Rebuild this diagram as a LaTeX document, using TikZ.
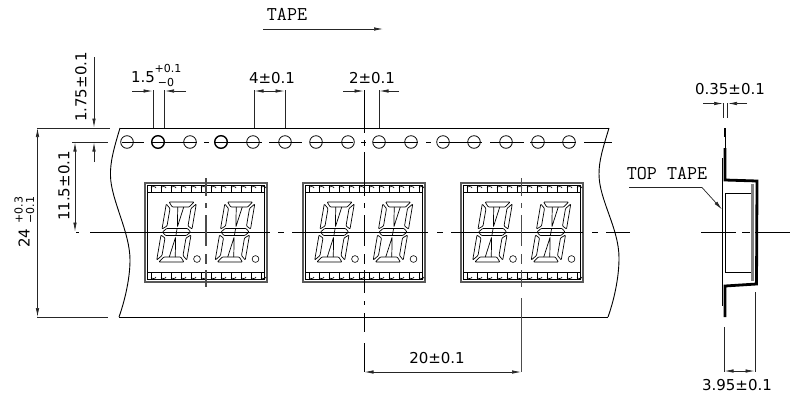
\documentclass[tikz,border=0pt]{standalone}
\usepackage{fontspec}
\setmainfont{DejaVu Sans}
\usetikzlibrary{arrows.meta}

\tikzset{
	dimline/.style={line width=.7pt,black!85},
	dimarrow/.style={dimline,-{Latex[length=9pt,width=3.5pt]}},
	dimboth/.style={dimline,{Latex[length=9pt,width=3.5pt]}-{Latex[length=9pt,width=3.5pt]}},
	dimtext/.style={inner sep=0,font=\fontsize{15}{15}\selectfont},
	tolertext/.style={inner sep=0,font=\fontsize{11}{11}\selectfont},
	captext/.style={inner sep=0,font=\ttfamily\fontsize{19.5}{19.5}\selectfont},
	tapeline/.style={line width=.9pt},
	centerline/.style={line width=.8pt},
	modline/.style={line width=.6pt},
}

\begin{document}
\begin{tikzpicture}[x=1pt,y=-1pt]

   \useasboundingbox (0,0) rectangle (791,397);

   % One digit, drawn around its centre
   \def\leddigit#1#2{
      \begin{scope}[shift={(#1,232)},xslant=.17,modline,line width=.7pt,rounded corners=.8pt]
         \draw (-12.5,-30) -- (12.5,-30) -- (8.5,-25) -- (-8.5,-25) -- cycle;
         \draw (-15,-28) -- (-10.5,-23.5) -- (-10.5,-6) -- (-15,-3) -- cycle;
         \draw (15,-28) -- (10.5,-23.5) -- (10.5,-6) -- (15,-3) -- cycle;
         \draw (-10.5,-3.5) -- (10.5,-3.5) -- (14,0) -- (10.5,3.5) -- (-10.5,3.5) -- (-14,0) -- cycle;
         \draw (-15,3) -- (-10.5,6) -- (-10.5,23.5) -- (-15,28) -- cycle;
         \draw (15,3) -- (10.5,6) -- (10.5,23.5) -- (15,28) -- cycle;
         \draw (-12.5,30) -- (12.5,30) -- (8.5,25) -- (-8.5,25) -- cycle;
         % Inner strokes
         \draw (-3,-25) -- (0,-5) -- (3,-25);
         \draw (-3,25) -- (0,5) -- (3,25);
         \draw (#2,-3) -- (#2,3);
      \end{scope}
   }

   % One display with its pins
   \def\ledmodule#1{
      \draw[line width=1.2pt,black!65] (#1,183) rectangle ++(122,99);
      \draw[modline] (#1+2.5,185.5) rectangle ++(117,94);
      \draw[modline] (#1+2.5,192.5) -- ++(117,0);
      \draw[modline] (#1+2.5,272.5) -- ++(117,0);
      \foreach \pin in {0,...,11}{
         \draw[modline] (#1+6+\pin*10,186) -- ++(0,6.5);
         \draw[modline] (#1+6+\pin*10,279.5) -- ++(0,-7);
         \draw[modline] (#1+6+\pin*10,188) arc (180:360:2.5 and 1.5);
         \draw[modline] (#1+6+\pin*10,277) arc (180:0:2.5 and 1.5);
      }
      \leddigit{#1+31.5}{0}
      \leddigit{#1+90}{0}
      \draw[modline] (#1+52,259) circle (3.4pt);
      \draw[modline] (#1+110.5,259) circle (3.4pt);
   }

   % Tape edges
   \draw[tapeline] (120,128) -- (609,128);
   \draw[tapeline] (119,317) -- (608,317);
   \draw[tapeline] (120,128) .. controls (114,148) and (110,162) .. (110.5,176)
                   .. controls (111,200) and (130,232) .. (130,260)
                   .. controls (130,280) and (124,303) .. (119,317);
   \draw[tapeline] (609,128) .. controls (603,148) and (599,160) .. (599,174)
                   .. controls (599,200) and (619,228) .. (619,258)
                   .. controls (619,280) and (613,303) .. (608,317);

   % Sprocket holes
   \foreach \hole in {127,190,253,285,316,348,379,411,443,474,506,538,569}{
      \draw[line width=.8pt] (\hole,142) circle (6.3pt);
   }
   \foreach \hole in {158,221}{
      \draw[line width=1.4pt] (\hole,142) circle (6.3pt);
   }

   % Displays
   \foreach \modx in {145,303,461}{
      \ledmodule{\modx}
   }

   % Centre lines
   \foreach \a/\b in {122/144,152/197,204/209,215/262,269/302,310/353,361/366,373/418,426/431,439/482,490/524,530/576,584/612}{
      \draw[centerline] (\a,142) -- (\b,142);
   }
   \foreach \a/\b in {76/79,90/270,278/284,292/428,437/443,451/583,592/598,606/630,701/736,742/750,755/790}{
      \draw[centerline] (\a,232) -- (\b,232);
   }
   \foreach \a/\b in {178/196,203/208,215/246,254/264,270/287}{
      \draw[line width=1.1pt,black!70] (206,\a) -- (206,\b);
   }
   \foreach \a/\b in {90/133,140/146,152/196,203/208,215/246,254/264,270/293,301/305,313/332,343/372}{
      \draw[centerline] (364,\a) -- (364,\b);
   }
   \foreach \a/\b in {178/196,203/208,215/246,254/264,270/287,298/372}{
      \draw[line width=1.1pt,black!70] (521.5,\a) -- (521.5,\b);
   }

   % Tape direction
   \node[captext] (tapeLabel) at (287,14) {TAPE};
   \draw[dimarrow] (263,29) -- (383,29);

   % Left dimensions
   \draw[dimline] (37,128) -- (110,128);
   \draw[dimline] (37,317) -- (108,317);
   \draw[dimline] (72,142) -- (108,142);
   \draw[dimboth] (37.5,128) -- (37.5,317);
   \draw[dimarrow] (94,57) -- (94,127.5);
   \draw[dimarrow] (94,162) -- (94,142.5);
   \draw[dimboth] (75,142.5) -- (75,231.5);
   \node[dimtext,rotate=90] (edgeLabel) at (81,87) {1.75±0.1};
   \node[dimtext,rotate=90] (halfLabel) at (64,186) {11.5±0.1};
   \node[dimtext,rotate=90] (widthLabel) at (24,238) {24};
   \node[tolertext,rotate=90] (widthPlus) at (18.5,210) {+0.3};
   \node[tolertext,rotate=90] (widthMinus) at (30,210) {−0.1};

   % Top dimensions
   \draw[dimline] (153,90) -- (153,128);
   \draw[dimline] (164.5,90) -- (164.5,128);
   \draw[dimarrow] (132,91) -- (152.5,91);
   \draw[dimarrow] (186,91) -- (165,91);
   \node[dimtext] (holeLabel) at (143,77) {1.5};
   \node[tolertext] (holePlus) at (168,68) {+0.1};
   \node[tolertext] (holeMinus) at (166,82) {−0};

   \draw[dimline] (254,90) -- (254,128);
   \draw[dimline] (285,90) -- (285,128);
   \draw[dimboth] (254.5,91) -- (284.5,91);
   \node[dimtext] (pitchLabel) at (272,78) {4±0.1};

   \draw[dimline] (379,90) -- (379,128);
   \draw[dimarrow] (343,91) -- (363.5,91);
   \draw[dimarrow] (399,91) -- (379.5,91);
   \node[dimtext] (offsetLabel) at (372,78) {2±0.1};

   % Bottom dimension
   \draw[dimboth] (364.5,372) -- (521,372);
   \node[dimtext] (spaceLabel) at (437,358) {20±0.1};

   % Section of the tape
   \draw[line width=.8pt] (722.5,158) -- (722.5,306);
   \draw[line width=.7pt] (725,137) -- (725,148);
   \draw[line width=2.8pt] (725,128) -- (725,137);
   \draw[line width=2.8pt,line join=miter] (725,148) -- (725,180) -- (757,181) -- (756.5,284) -- (725,286) -- (725,317);
   \draw[line width=.8pt] (751,193) -- (725.5,193) -- (725.5,272) -- (751,272);
   \draw[line width=2.5pt,black!50] (752.5,184) -- (752.5,281);

   % Section dimensions
   \draw[dimline] (723.5,103) -- (723.5,118);
   \draw[dimline] (727.5,103) -- (727.5,118);
   \draw[dimarrow] (703,103.5) -- (723,103.5);
   \draw[dimarrow] (747,103.5) -- (728,103.5);
   \node[dimtext] (foilLabel) at (730,89) {0.35±0.1};

   \draw[dimline] (724,327) -- (724,372);
   \draw[dimline] (755,292) -- (755,372);
   \draw[dimboth] (724.5,371) -- (754.5,371);
   \node[dimtext] (depthLabel) at (737,385) {3.95±0.1};

   % Top tape leader
   \node[captext] (topTapeLabel) at (667,174) {TOP TAPE};
   \draw[dimline,-{Latex[length=9pt,width=3.5pt]}] (629,187.5) -- (702,187.5) -- (722,209.5);

\end{tikzpicture}
\end{document}
